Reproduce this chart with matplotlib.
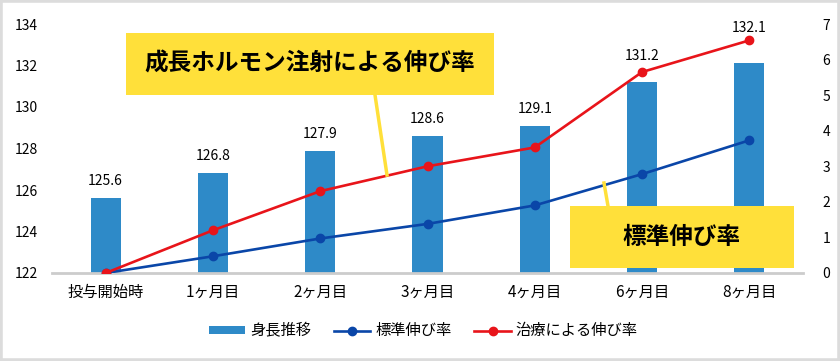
import matplotlib
matplotlib.use("Agg")
import matplotlib.pyplot as plt
from matplotlib.patches import Rectangle
from matplotlib.lines import Line2D
import numpy as np

plt.rcParams['font.family'] = ['Noto Sans CJK JP', 'DejaVu Sans']

categories = ["投与開始時", "1ヶ月目", "2ヶ月目", "3ヶ月目", "4ヶ月目", "6ヶ月目", "8ヶ月目"]
height = [125.6, 126.8, 127.9, 128.6, 129.1, 131.2, 132.1]
standard_rate = [0.0, 0.47, 0.97, 1.38, 1.9, 2.78, 3.73]
treatment_rate = [0.0, 1.2, 2.3, 3.0, 3.53, 5.65, 6.54]

# label offsets above bar tops (style, in axis units)
label_offset = [0.82, 0.82, 0.82, 0.82, 0.82, 1.25, 1.73]

bar_color = "#2E8AC8"
blue = "#0A46A8"
red = "#E8141A"
yellow = "#FFE03A"

fig = plt.figure(figsize=(8.4, 3.61), dpi=100)
ax = fig.add_axes([52/840, 1-273/361, (803-52)/840, (273-24)/361])
ax2 = ax.twinx()

x = np.arange(len(categories))
ax.bar(x, height, width=0.28, color=bar_color, bottom=0, zorder=2)
ax.set_ylim(122, 134)
ax.set_xlim(-0.5, len(categories)-0.5)
ax.set_yticks(np.arange(122, 135, 2))
ax.set_xticks(x)
ax.set_xticklabels(categories)
for xi, h, off in zip(x, height, label_offset):
    ax.text(xi, h + off, f"{h:.1f}", ha="center", va="center", fontsize=10, zorder=8)

ax2.plot(x, standard_rate, color=blue, lw=1.9, marker="o", ms=6, zorder=3)
ax2.plot(x, treatment_rate, color=red, lw=1.9, marker="o", ms=6, zorder=3)
ax2.set_ylim(0, 7)
ax2.set_yticks(range(0, 8))

for a in (ax, ax2):
    for s in a.spines.values():
        s.set_visible(False)
    a.tick_params(length=0, labelsize=10)
ax.spines['bottom'].set_visible(True)
ax.spines['bottom'].set_color("#cccccc")
ax.spines['bottom'].set_linewidth(2)
ax.tick_params(axis='y', pad=10)
ax.tick_params(axis='x', pad=8, labelsize=11)
ax2.tick_params(axis='y', pad=14)

def fig_px(px, py):
    return px/840, 1-py/361

# leader lines
l1 = Line2D([375/840, 387/840], [1-95/361, 1-175/361], transform=fig.transFigure,
            color=yellow, lw=2.5, zorder=5)
l2 = Line2D([608/840, 604/840], [1-206/361, 1-183/361], transform=fig.transFigure,
            color=yellow, lw=2.5, zorder=5)
fig.add_artist(l1)
fig.add_artist(l2)
b1 = Rectangle(fig_px(126, 95), (494-126)/840, (95-33)/361, transform=fig.transFigure,
               facecolor=yellow, edgecolor="none", zorder=6)
b2 = Rectangle(fig_px(570, 268), (794-570)/840, (268-206)/361, transform=fig.transFigure,
               facecolor=yellow, edgecolor="none", zorder=6)
fig.add_artist(b1)
fig.add_artist(b2)
fig.text((126+494)/2/840, 1-64/361, "成長ホルモン注射による伸び率", ha="center", va="center",
         fontsize=17, fontweight="bold", zorder=7)
fig.text((570+794)/2/840, 1-237/361, "標準伸び率", ha="center", va="center",
         fontsize=17, fontweight="bold", zorder=7)

# legend
handles = [
    Rectangle((0, 0), 1, 1, facecolor=bar_color, edgecolor="none"),
    Line2D([], [], color=blue, lw=1.9, marker="o", ms=6),
    Line2D([], [], color=red, lw=1.9, marker="o", ms=6),
]
labels = ["身長推移", "標準伸び率", "治療による伸び率"]
fig.legend(handles, labels, loc="center", bbox_to_anchor=(423/840, 1-331/361), ncol=3,
           frameon=False, fontsize=11, handlelength=2.4, handleheight=0.5,
           columnspacing=1.5, handletextpad=0.3)

# outer frame
fig.add_artist(Rectangle((0, 0), 1, 1, transform=fig.transFigure, facecolor="none",
                         edgecolor="#dcdcdc", lw=4, zorder=10))

fig.savefig("out.png", dpi=100)
